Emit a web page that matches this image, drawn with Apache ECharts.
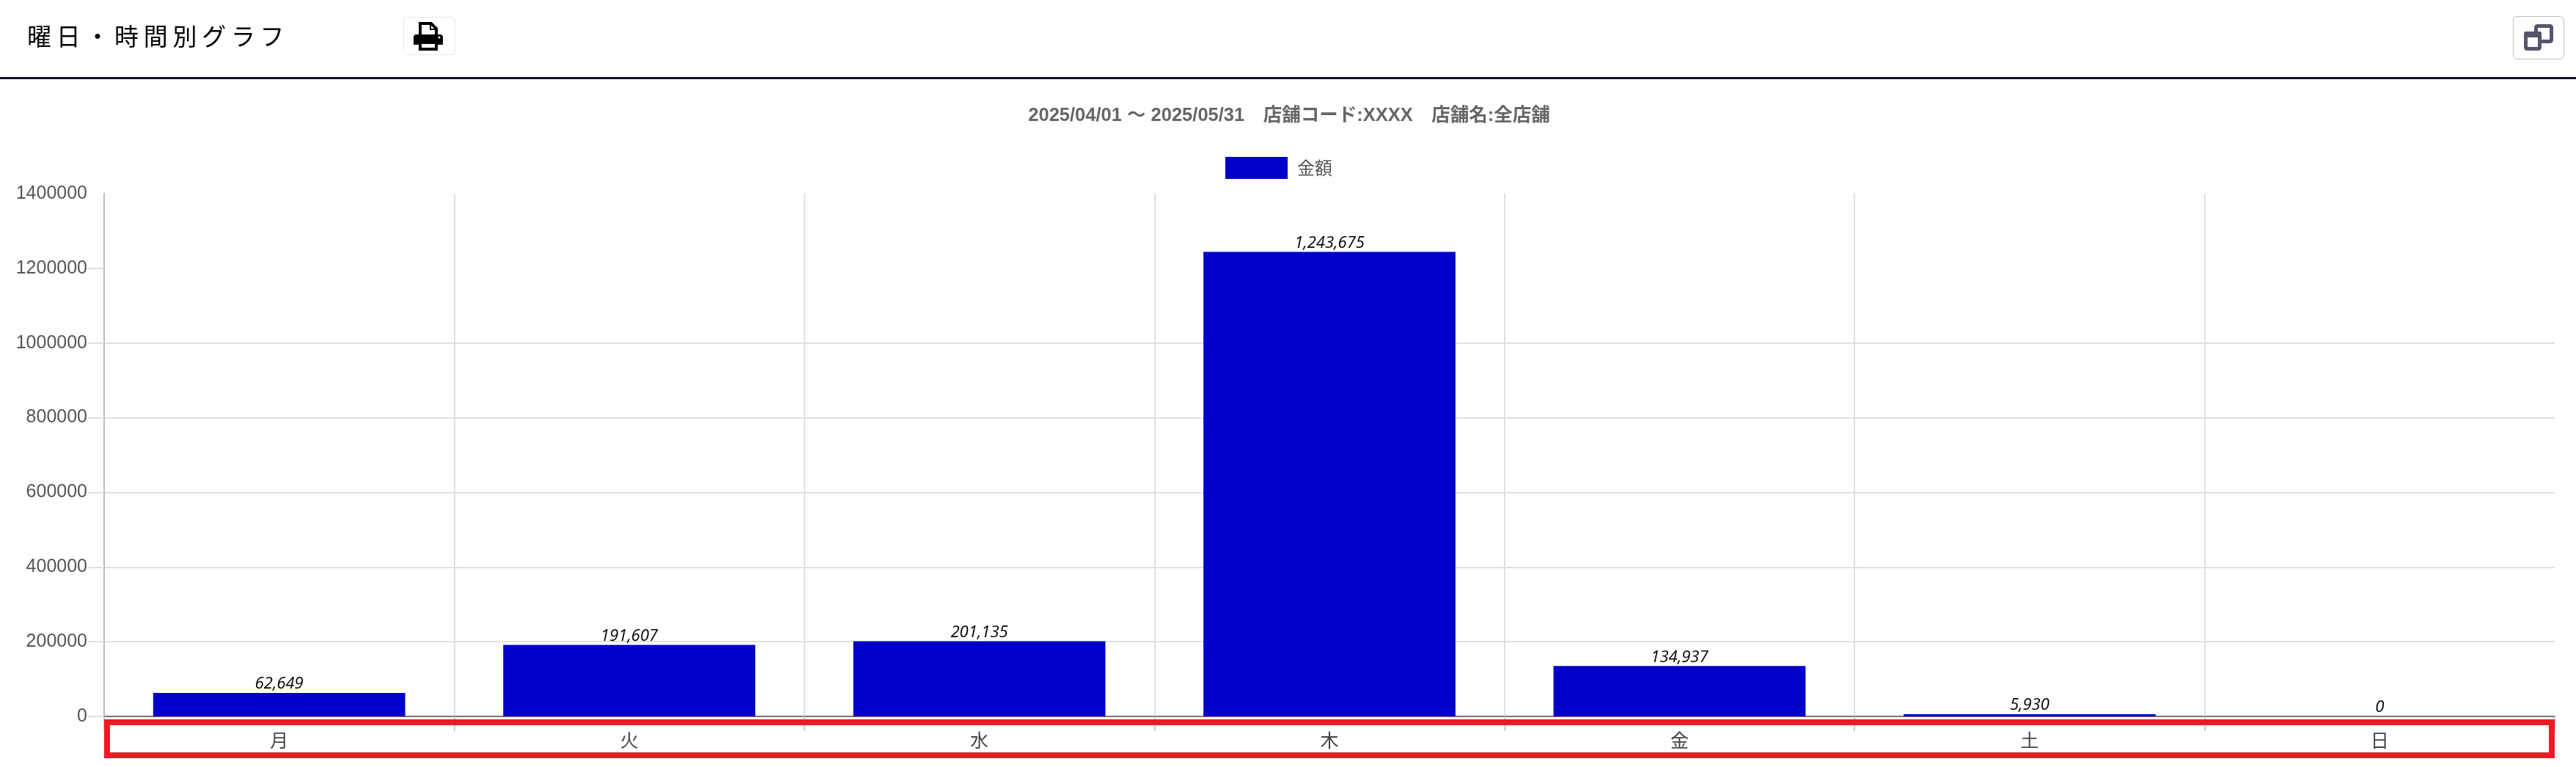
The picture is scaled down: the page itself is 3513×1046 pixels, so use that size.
<!DOCTYPE html>
<html>
<head>
    <meta charset="UTF-8">
    <title>曜日・時間別グラフ</title>
    <script src="https://cdn.jsdelivr.net/npm/echarts@6/dist/echarts.min.js"></script>
    <style>
        html, body { margin: 0; padding: 0; background: #fff; overflow: hidden; }
        #container { position: absolute; left: 0; top: 0; width: 3513px; height: 1046px; }
        #heading { position: absolute; left: 37px; top: 26px; font: 400 33px/44px "Noto Sans CJK JP", sans-serif; letter-spacing: 6.7px; color: #000; white-space: nowrap; }
        #rule { position: absolute; left: 0; top: 105px; width: 3513px; height: 3px; background: #10131c; }
        .btn { position: absolute; box-sizing: border-box; background: #fff; }
        #printBtn { left: 550px; top: 23px; width: 71px; height: 52px; border: 1px solid #e8e8e8; border-radius: 4px; }
        #sizeBtn { left: 3427px; top: 22px; width: 70px; height: 59px; border: 1px solid #bdbdb8; border-radius: 6px; }
        .btn svg { position: absolute; left: -1px; top: -1px; }
    </style>
</head>
<body>
<div id="container"></div>
<div id="heading">曜日・時間別グラフ</div>
<div id="rule"></div>
<div id="printBtn" class="btn">
    <svg width="71" height="52" viewBox="0 0 71 52">
        <path d="M23 26V9h15l7 7v10" fill="#fff" stroke="#000" stroke-width="4"/>
        <path d="M37 8v9h8" fill="none" stroke="#000" stroke-width="2"/>
        <path d="M18 24h32a4 4 0 0 1 4 4v10h-7v-4H21v4h-7V28a4 4 0 0 1 4-4z" fill="#000"/>
        <path d="M23 35h22v9H23z" fill="#fff" stroke="#000" stroke-width="4"/>
        <circle cx="49" cy="28" r="1.5" fill="#fff"/>
    </svg>
</div>
<div id="sizeBtn" class="btn">
    <svg width="70" height="59" viewBox="0 0 70 59">
        <rect x="31.5" y="13.5" width="21" height="21" rx="2" fill="#fff" stroke="#55556a" stroke-width="5"/>
        <rect x="17.5" y="23.5" width="19" height="21" rx="2" fill="#fff" stroke="#55556a" stroke-width="5"/>
        <rect x="15" y="21" width="24" height="8" rx="2" fill="#55556a"/>
    </svg>
</div>
<script>

    // 曜日と金額
    var days = ['月', '火', '水', '木', '金', '土', '日'];
    var amounts = [62649, 191607, 201135, 1243675, 134937, 5930, 0];
    var seriesName = '金額';
    var subtitle = '2025/04/01 〜 2025/05/31　店舗コード:XXXX　店舗名:全店舗';
    var yTicks = [0, 200000, 400000, 600000, 800000, 1000000, 1200000];
    var yMax = 1400000;
    var yStep = 200000;

    var latin = '"Liberation Sans", "Noto Sans CJK JP", sans-serif';
    var cjk = '"Noto Sans CJK JP", sans-serif';

    var mychart = echarts.init(document.getElementById('container'));
    var option = {
        animation: false,
        title: {
            text: subtitle,
            left: 1753,
            textAlign: 'center',
            top: 140,
            textStyle: { fontFamily: latin, fontSize: 25.5, fontWeight: 'bold', color: '#666' }
        },
        legend: {
            data: [{ name: seriesName, icon: 'rect' }],
            left: 1671,
            top: 214,
            padding: 0,
            itemWidth: 85,
            itemHeight: 30,
            textStyle: { fontFamily: cjk, fontSize: 24, color: '#555', padding: [0, 0, 0, 8] }
        },
        grid: { left: 142, right: 29, top: 264, bottom: 69 },
        xAxis: {
            type: 'category',
            data: days,
            axisLine: { lineStyle: { color: '#777', width: 2 } },
            axisTick: { show: true, length: 20, lineStyle: { color: '#ccc', width: 2 } },
            axisLabel: { margin: 20, fontFamily: cjk, fontSize: 25, color: '#444' },
            splitLine: { show: true, showMaxLine: false, lineStyle: { color: '#e0e0e0', width: 2 } }
        },
        yAxis: {
            type: 'value',
            min: 0,
            max: yMax,
            interval: yStep,
            axisLine: { show: true, lineStyle: { color: '#bbb', width: 2 } },
            axisTick: { show: true, customValues: yTicks, length: 22, lineStyle: { color: '#e0e0e0', width: 2 } },
            axisLabel: {
                margin: 23,
                fontFamily: latin,
                fontSize: 25,
                color: '#555',
                padding: [0, 0, 6, 0],
                formatter: function (v) { return String(v); }
            },
            splitLine: { show: true, showMaxLine: false, lineStyle: { color: '#e0e0e0', width: 2 } }
        },
        series: [{
            name: seriesName,
            type: 'bar',
            data: amounts,
            barCategoryGap: '28%',
            itemStyle: { color: '#0000c8' },
            label: {
                show: true,
                position: 'top',
                distance: 1,
                fontFamily: '"Open Sans", sans-serif',
                fontStyle: 'italic',
                fontSize: 22,
                color: '#000',
                formatter: function (p) { return p.value.toLocaleString('en-US'); }
            }
        }],
        graphic: [{
            // 軸ラベルを囲む赤枠
            type: 'rect',
            z: 100,
            shape: { x: 146, y: 985, width: 3334, height: 45 },
            style: { fill: 'none', stroke: '#ed1c24', lineWidth: 8 }
        }]
    };

    mychart.setOption(option);

</script>
</body>
</html>
